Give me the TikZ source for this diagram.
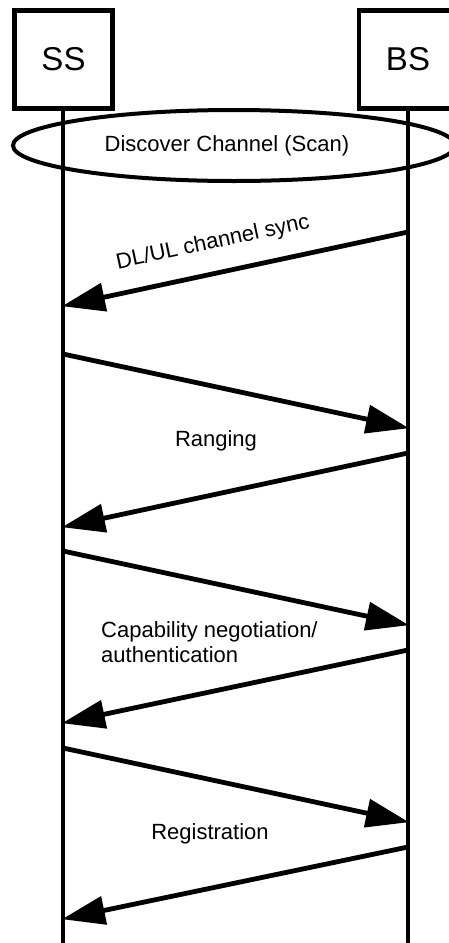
\documentclass[tikz,border=0pt]{standalone}
\usepackage{fontspec}
\setmainfont{Liberation Sans}
\usetikzlibrary{arrows.meta,shapes.geometric}
\tikzset{
  actor/.style={draw, line width=4.5pt, minimum width=98pt, minimum height=98pt, inner sep=0pt, font=\fontsize{33}{38}\selectfont},
  lifeline/.style={line width=4pt},
  msg/.style={line width=4.8pt, -{Triangle[length=43pt,width=28pt]}, shorten >=-1pt},
  lbl/.style={font=\fontsize{22}{25}\selectfont, inner sep=0pt}
}
\begin{document}
\begin{tikzpicture}[x=1pt,y=-1pt]
\useasboundingbox (0,0) rectangle (449,943);
% actors
\node[actor] (SS) at (63.5,59.5) {SS};
\node[actor] (BS) at (408,59.5) {BS};
% lifelines
\coordinate (ssEnd) at (63,943);
\coordinate (bsEnd) at (408,943);
\draw[lifeline] (SS.south -| ssEnd) -- (ssEnd);
\draw[lifeline] (BS.south -| bsEnd) -- (bsEnd);
% scan ellipse
\node[draw, ellipse, line width=4pt, minimum width=442pt, minimum height=71pt, inner sep=0pt] (scan) at (234,145.5) {};
\node[lbl] (scanlbl) at (227,146) {Discover Channel (Scan)};
% points on lifelines
\foreach \n/\y in {b1/232,b3/453,b5/650,b7/847,b2/428,b4/625,b6/822}{\coordinate (\n) at (408,\y);}
\foreach \n/\y in {s1/306,s3/527,s5/723,s7/919,s2/354,s4/551,s6/748}{\coordinate (\n) at (63,\y);}
% messages
\draw[msg] (b1) -- (s1);
\draw[msg] (s2) -- (b2);
\draw[msg] (b3) -- (s3);
\draw[msg] (s4) -- (b4);
\draw[msg] (b5) -- (s5);
\draw[msg] (s6) -- (b6);
\draw[msg] (b7) -- (s7);
% labels
\node[lbl, rotate=12] (l1) at (213,243) {DL/UL channel sync};
\node[lbl] (l2) at (216,441) {Ranging};
\node[lbl, align=left, anchor=west] (l3) at (101,642.5) {Capability negotiation/\\authentication};
\node[lbl] (l4) at (210,834) {Registration};
\end{tikzpicture}
\end{document}
